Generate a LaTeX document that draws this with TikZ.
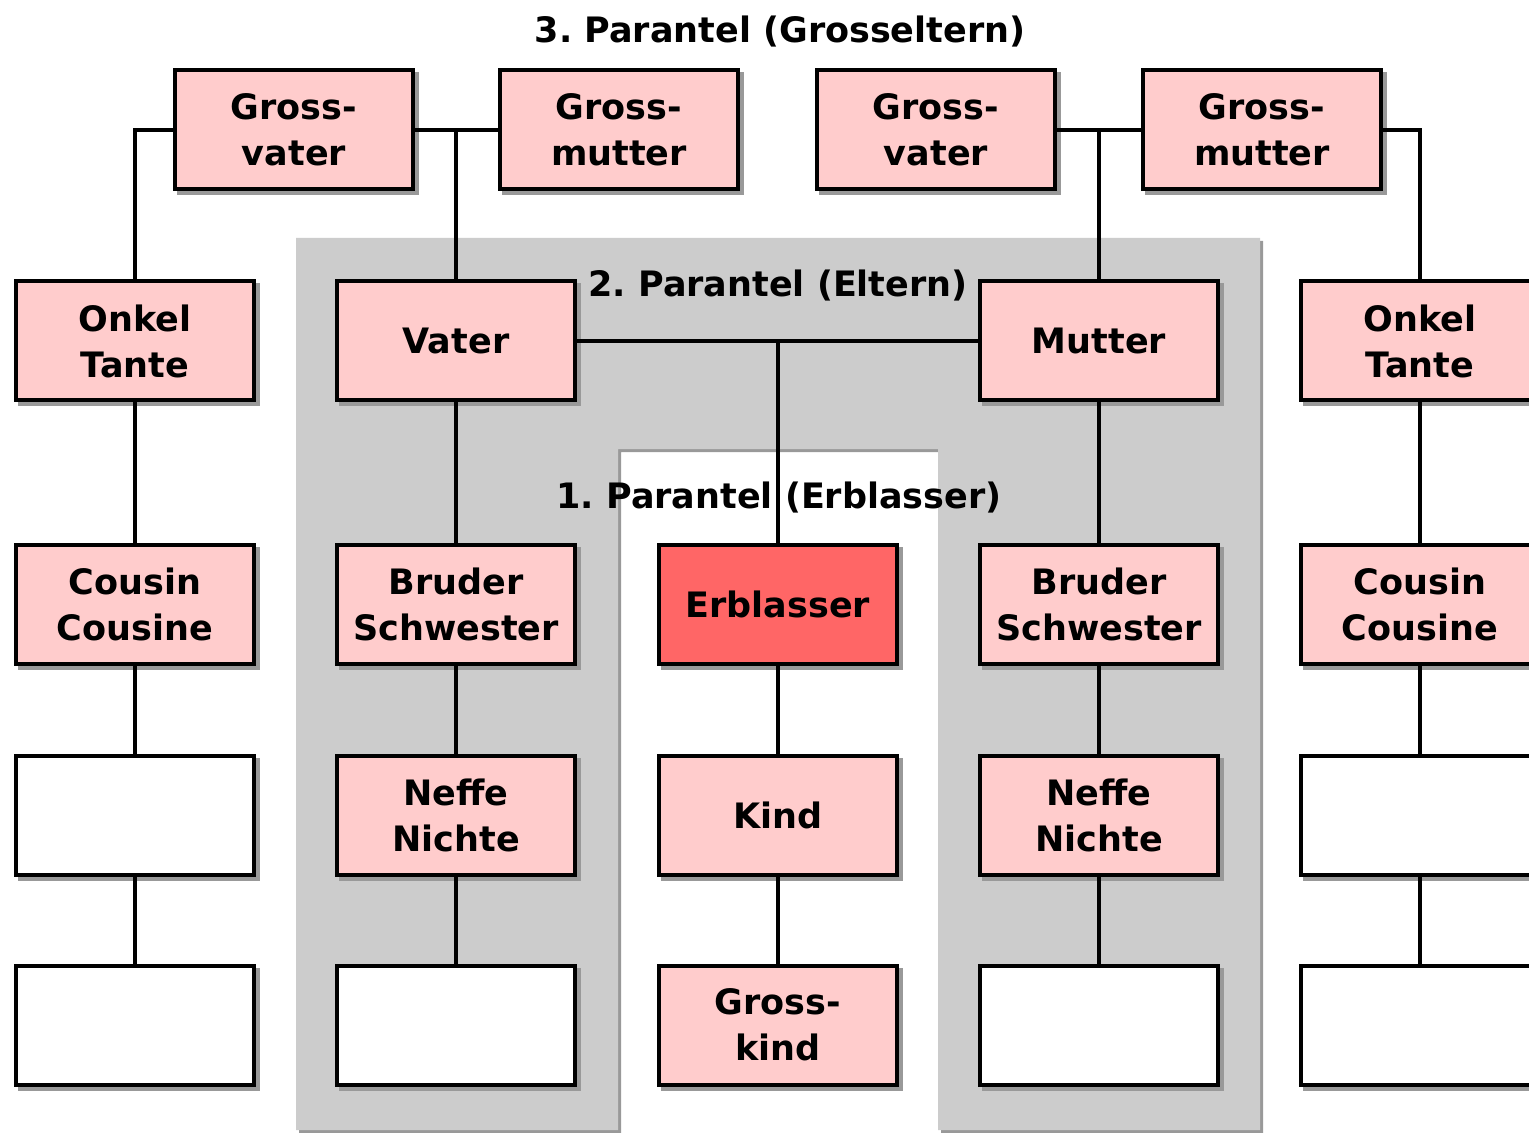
\documentclass[tikz,border=0pt]{standalone}
\usepackage{fontspec}
\setmainfont{DejaVu Sans}
\frenchspacing
\definecolor{pinkbox}{HTML}{FFCCCC}
\definecolor{redbox}{HTML}{FF6666}
\definecolor{zonegray}{HTML}{CCCCCC}
\definecolor{shadowgray}{HTML}{999999}
\begin{document}
\begin{tikzpicture}[x=0.5pt,y=-0.5pt,
  person/.style={draw=black, line width=2pt, fill=pinkbox,
    minimum width=119pt, minimum height=59.5pt, inner sep=0pt,
    align=center, font=\fontsize{17.5}{23}\selectfont\bfseries,
    preaction={fill=shadowgray, draw=shadowgray, line width=2pt,
      transform canvas={xshift=2pt,yshift=-2pt}}},
  deceased/.style={person, fill=redbox},
  blank/.style={person, fill=white},
  title/.style={anchor=base, inner sep=0pt, font=\fontsize{17.5}{23}\selectfont\bfseries},
  link/.style={draw=black, line width=1.8pt}]
\useasboundingbox (0,0) rectangle (1529,1133);
\clip (0,0) rectangle (1529,1133);
\fill[white] (0,0) rectangle (1529,1133);

% second parentela zone (parents), with the first one cut out
\fill[shadowgray] (299,241) -- (1263,241) -- (1263,1133) -- (941,1133) -- (941,452)
  -- (621,452) -- (621,1133) -- (299,1133) -- cycle;
\fill[zonegray] (296,238) -- (1260,238) -- (1260,1130) -- (938,1130) -- (938,449)
  -- (618,449) -- (618,1130) -- (296,1130) -- cycle;

% grandparents
\node[person] (gv1) at (294,130) {Gross-\\vater};
\node[person] (gm1) at (619,130) {Gross-\\mutter};
\node[person] (gv2) at (936,130) {Gross-\\vater};
\node[person] (gm2) at (1262,130) {Gross-\\mutter};

% left column
\node[person] (onkel1) at (135,341) {Onkel\\Tante};
\node[person] (cousin1) at (135,604) {Cousin\\Cousine};
\node[blank] (blank1a) at (135,815) {};
\node[blank] (blank1b) at (135,1025) {};

% father's side
\node[person] (vater) at (456,341) {Vater};
\node[person] (bruder1) at (456,604) {Bruder\\Schwester};
\node[person] (neffe1) at (456,815) {Neffe\\Nichte};
\node[blank] (blank2) at (456,1025) {};

% deceased and descendants
\node[deceased] (erbl) at (778,604) {Erblasser};
\node[person] (kind) at (778,815) {Kind};
\node[person] (gkind) at (778,1025) {Gross-\\kind};

% mother's side
\node[person] (mutter) at (1099,341) {Mutter};
\node[person] (bruder2) at (1099,604) {Bruder\\Schwester};
\node[person] (neffe2) at (1099,815) {Neffe\\Nichte};
\node[blank] (blank4) at (1099,1025) {};

% right column
\node[person] (onkel2) at (1420,341) {Onkel\\Tante};
\node[person] (cousin2) at (1420,604) {Cousin\\Cousine};
\node[blank] (blank5a) at (1420,815) {};
\node[blank] (blank5b) at (1420,1025) {};

% headings
\node[title] (t3) at (780,43) {3. Parantel (Grosseltern)};
\node[title] (t2) at (778,297) {2. Parantel (Eltern)};
\node[title] (t1) at (779,508) {1. Parantel (Erblasser)};

% connectors
\draw[link] (gv1.west) -| (onkel1.north);
\draw[link] (gv1.east) -- (gm1.west);
\draw[link] (vater.north) -- (vater.north |- gv1.east);
\draw[link] (gv2.east) -- (gm2.west);
\draw[link] (mutter.north) -- (mutter.north |- gv2.east);
\draw[link] (gm2.east) -| (onkel2.north);
\draw[link] (vater.east) -- (mutter.west);
\draw[link] (erbl.north) -- (erbl.north |- vater.east);

\draw[link] (onkel1.south) -- (cousin1.north);
\draw[link] (cousin1.south) -- (blank1a.north);
\draw[link] (blank1a.south) -- (blank1b.north);
\draw[link] (vater.south) -- (bruder1.north);
\draw[link] (bruder1.south) -- (neffe1.north);
\draw[link] (neffe1.south) -- (blank2.north);
\draw[link] (erbl.south) -- (kind.north);
\draw[link] (kind.south) -- (gkind.north);
\draw[link] (mutter.south) -- (bruder2.north);
\draw[link] (bruder2.south) -- (neffe2.north);
\draw[link] (neffe2.south) -- (blank4.north);
\draw[link] (onkel2.south) -- (cousin2.north);
\draw[link] (cousin2.south) -- (blank5a.north);
\draw[link] (blank5a.south) -- (blank5b.north);
\end{tikzpicture}
\end{document}
